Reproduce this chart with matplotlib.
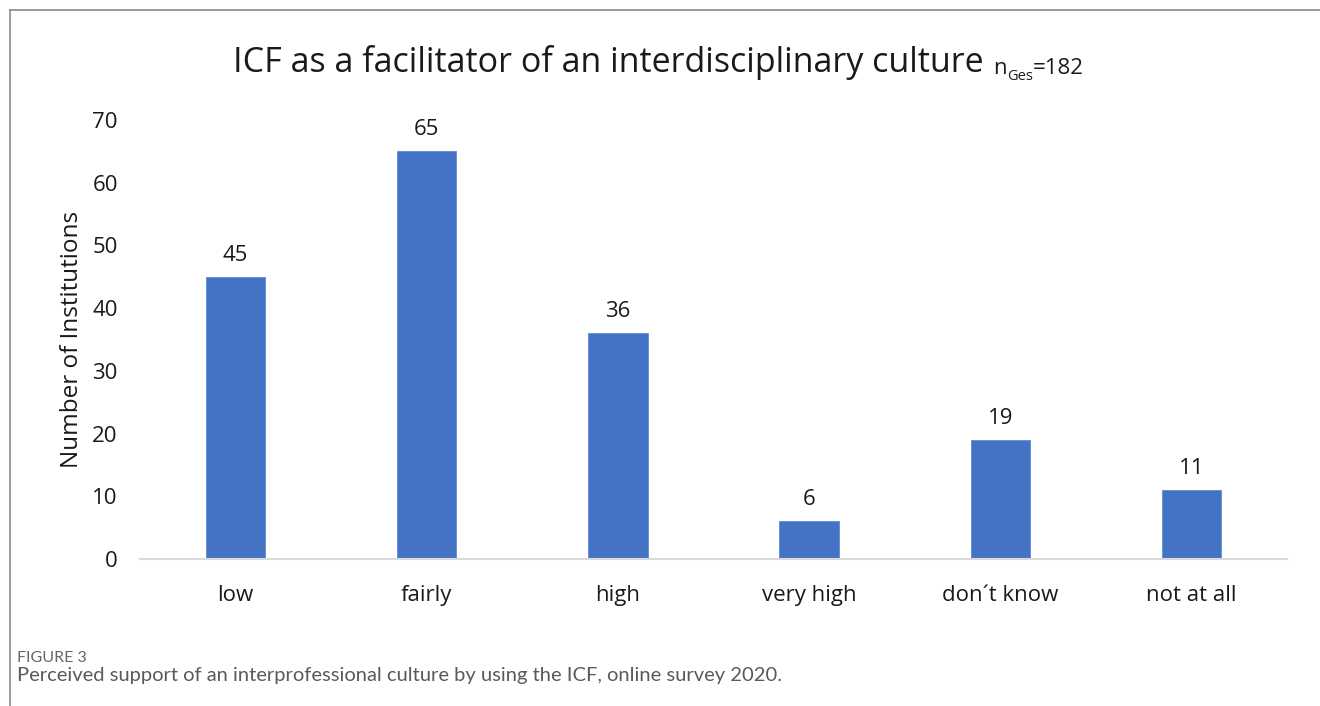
import matplotlib
matplotlib.use("Agg")
import matplotlib.pyplot as plt
from matplotlib.lines import Line2D

categories = ["low", "fairly", "high", "very high", "don\u00b4t know", "not at all"]
values = [45, 65, 36, 6, 19, 11]
yticks = [0, 10, 20, 30, 40, 50, 60, 70]

W, H = 1320, 706
fig = plt.figure(figsize=(W / 100, H / 100), dpi=100)
plt.rcParams['font.family'] = ['Open Sans', 'DejaVu Sans']

ax = fig.add_axes([140 / W, 1 - 559 / H, (1287 - 140) / W, (559 - 120) / H])
x = list(range(len(categories)))
ax.bar(x, values, width=0.31, color="#4472C4", edgecolor="#5B8BD8", linewidth=0.6)
ax.set_xlim(-0.5, len(categories) - 0.5)
ax.set_ylim(0, 70)
ax.set_yticks(yticks)
ax.set_xticks(x)
ax.set_xticklabels(categories)
ax.tick_params(axis='both', length=0, labelsize=16, colors="#1a1a1a")
ax.tick_params(axis='y', pad=16)
ax.tick_params(axis='x', pad=19)
for s in ["top", "right", "left"]:
    ax.spines[s].set_visible(False)
ax.spines["bottom"].set_color("#d9d9d9")
ax.spines["bottom"].set_linewidth(1.5)
ax.set_ylabel("Number of Institutions", fontsize=17.5, color="#1a1a1a", labelpad=6)

for xi, v in zip(x, values):
    ax.annotate(str(v), (xi, v), xytext=(0, 8), textcoords="offset points",
                ha="center", va="bottom", fontsize=16, color="#1a1a1a")

# Title with subscript
t1 = fig.text(233 / W, 1 - 63 / H, "ICF as a facilitator of an interdisciplinary culture",
              ha="left", va="center", fontsize=24.5, color="#1a1a1a")
fig.canvas.draw()
r = fig.canvas.get_renderer()
bb = t1.get_window_extent(r)
base_y = bb.y0 + 6
t2 = fig.text((bb.x1 + 10) / W, base_y / H, "n", ha="left", va="baseline", fontsize=16, color="#1a1a1a")
bb2 = t2.get_window_extent(r)
t3 = fig.text(bb2.x1 / W, (base_y - 5) / H, "Ges", ha="left", va="baseline", fontsize=10.5, color="#1a1a1a")
bb3 = t3.get_window_extent(r)
fig.text(bb3.x1 / W, base_y / H, "=182", ha="left", va="baseline", fontsize=16, color="#1a1a1a")

# Caption
fig.text(17 / W, 1 - 658 / H, "FIGURE 3", ha="left", va="center", fontsize=11.5, color="#666666",
         family=['Lato', 'DejaVu Sans'])
fig.text(17 / W, 1 - 676 / H, "Perceived support of an interprofessional culture by using the ICF, online survey 2020.",
         ha="left", va="center", fontsize=14.5, color="#5a5a5a", family=['Lato', 'DejaVu Sans'])

# Frame lines
fig.add_artist(Line2D([10 / W, 1], [1 - 10 / H, 1 - 10 / H], color="#8a8a8a", linewidth=1.2))
fig.add_artist(Line2D([10 / W, 10 / W], [0, 1 - 10 / H], color="#8a8a8a", linewidth=1.2))

fig.savefig("out.png", dpi=100)
